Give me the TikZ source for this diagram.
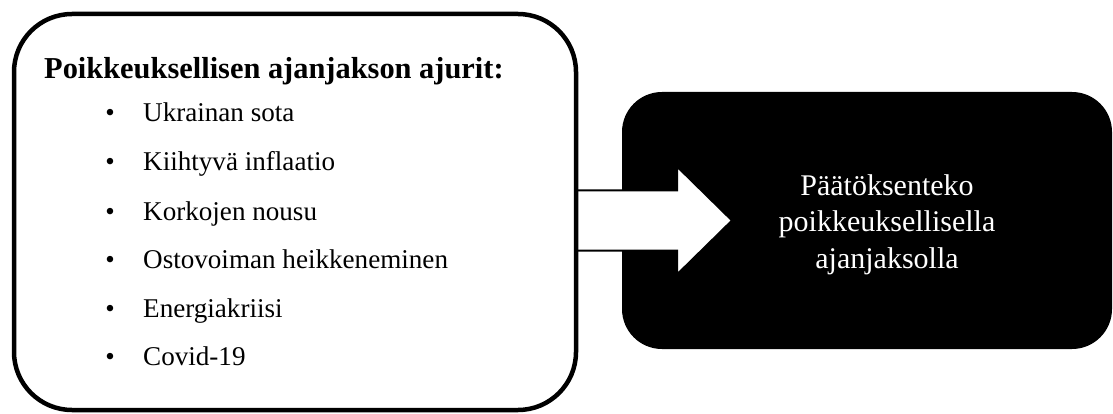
\documentclass[tikz,border=0pt]{standalone}
\usepackage{fontspec}
\setmainfont{Liberation Serif}
\usetikzlibrary{calc,backgrounds}
\begin{document}
\begin{tikzpicture}[x=1pt,y=-1pt,
  panel/.style={draw=black, line width=4.5pt, rounded corners=58pt, fill=white,
    minimum width=562pt, minimum height=396pt, inner sep=0pt, outer sep=0pt},
  outcome/.style={fill=black, rounded corners=40pt, minimum width=490pt,
    minimum height=257pt, inner sep=0pt, outer sep=0pt},
  heading/.style={anchor=base west, inner sep=0pt,
    font=\fontsize{30.4}{36}\selectfont\bfseries},
  item/.style={anchor=base west, inner sep=0pt, font=\fontsize{27.1}{32}\selectfont},
  dot/.style={anchor=base, inner sep=0pt, font=\fontsize{27}{32}\selectfont},
  outcometext/.style={text=white, align=center, inner sep=0pt,
    font=\fontsize{30}{36.5}\selectfont},
  flowarrow/.style={draw=black, fill=white, line width=2pt, line join=miter}]
\useasboundingbox (0,0) rectangle (1113,414);

% left panel with the list of drivers
\node[panel] (drivers) at (295,212) {};
\node[heading] (title) at (44,79) {Poikkeuksellisen ajanjakson ajurit:};
\foreach \y/\txt [count=\i] in {122/Ukrainan sota, 171/Kiihtyvä inflaatio,
    220/Korkojen nousu, 268/Ostovoiman heikkeneminen, 317/Energiakriisi,
    365/Covid-19} {
  \node[dot] (dot\i) at (110,\y) {•};
  \node[item] (item\i) at (143,\y) {\txt};
}

% outcome box and the arrow leading into it
\begin{pgfonlayer}{background}
  \node[outcome] (decision) at (867,220.5) {};
  \path (drivers.east |- decision.west) coordinate (tail);
  \path ($(decision.west)+(110,0)$) coordinate (tip);
  \draw[flowarrow] ($(tail)+(0,-30)$) -- ($(tip)+(-55,-30)$)
    -- ($(tip)+(-55,-54)$) -- (tip) -- ($(tip)+(-55,54)$)
    -- ($(tip)+(-55,30)$) -- ($(tail)+(0,30)$) -- cycle;
\end{pgfonlayer}
\node[outcometext] (decisiontext) at (887,224.5)
  {Päätöksenteko\\poikkeuksellisella\\ajanjaksolla};
\end{tikzpicture}
\end{document}
